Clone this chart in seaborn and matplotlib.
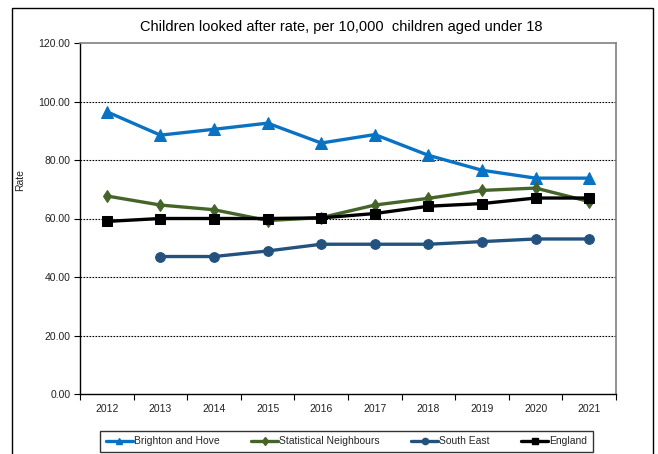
import matplotlib
matplotlib.use("Agg")
import matplotlib.pyplot as plt
from matplotlib import font_manager
from matplotlib.lines import Line2D
from matplotlib.patches import Rectangle
from matplotlib.ticker import FixedLocator, NullFormatter, FixedFormatter
import numpy as np
import pandas as pd
import seaborn as sns

years = ["2012", "2013", "2014", "2015", "2016", "2017", "2018", "2019", "2020", "2021"]
brighton_and_hove = [96.5, 88.5, 90.5, 92.6, 85.8, 88.7, 81.6, 76.5, 73.8, 73.8]
statistical_neighbours = [67.7, 64.6, 63.0, 59.3, 60.3, 64.6, 66.9, 69.6, 70.4, 65.8]
south_east = [np.nan, 47.0, 47.0, 48.9, 51.2, 51.2, 51.2, 52.1, 53.0, 53.0]
england = [59.0, 60.0, 60.0, 60.0, 60.2, 61.7, 64.2, 65.1, 67.0, 67.0]

series_names = ["Brighton and Hove", "Statistical Neighbours", "South East", "England"]
series_values = [brighton_and_hove, statistical_neighbours, south_east, england]
colors = ["#0A72C3", "#45642A", "#24527F", "#000000"]
markers = ["^", "d", "o", "s"]
marker_sizes = [8.5, 6, 7, 7.5]

sns.set_theme(style="white")
available = {f.name for f in font_manager.fontManager.ttflist}
narrow = "Liberation Sans Narrow" if "Liberation Sans Narrow" in available else "Liberation Sans"
plt.rcParams["font.family"] = [narrow, "DejaVu Sans"]

rows = []
for name, vals in zip(series_names, series_values):
    for i, v in enumerate(vals):
        rows.append({"pos": i, "year": years[i], "series": name, "rate": v})
df = pd.DataFrame(rows)

fig = plt.figure(figsize=(6.58, 4.54), dpi=100)
ax = fig.add_axes([80 / 658, 1 - 394 / 454, (616 - 80) / 658, (394 - 43) / 454])

for name, col, mk, ms in zip(series_names, colors, markers, marker_sizes):
    sub = df[df["series"] == name].dropna()
    sns.lineplot(data=sub, x="pos", y="rate", ax=ax, color=col, linewidth=2.4,
                 marker=mk, markersize=ms, markeredgecolor=col, markerfacecolor=col,
                 legend=False)

ax.set_xlim(-0.5, len(years) - 0.5)
ax.set_ylim(0, 120)
ax.set_yticks(np.arange(0, 121, 20))
ax.set_yticklabels([f"{v:.2f}" for v in range(0, 121, 20)], fontsize=7.5, color="#222222")
ax.xaxis.set_major_locator(FixedLocator(np.arange(-0.5, len(years), 1.0)))
ax.xaxis.set_major_formatter(NullFormatter())
ax.xaxis.set_minor_locator(FixedLocator(np.arange(len(years))))
ax.xaxis.set_minor_formatter(FixedFormatter(years))
ax.tick_params(axis="x", which="major", direction="out", length=4, width=0.8, color="black", bottom=True)
ax.tick_params(axis="x", which="minor", length=0, labelsize=7.5, labelcolor="#222222", pad=7)
ax.tick_params(axis="y", direction="out", length=4, width=0.8, color="black", left=True, pad=3)
ax.set_xlabel("")
ax.set_ylabel("Rate", fontsize=7.5, color="#222222")
ax.yaxis.set_label_coords((25 - 80) / 536, (394 - 180) / 351)

for v in range(20, 120, 20):
    ax.axhline(v, color="black", linewidth=0.8, linestyle=(0, (1.5, 1.2)), zorder=0)

for side in ["left", "bottom"]:
    ax.spines[side].set_color("black")
    ax.spines[side].set_linewidth(1.0)
for side in ["top", "right"]:
    ax.spines[side].set_color("#808080")
    ax.spines[side].set_linewidth(1.2)

fig.text(341 / 658, 1 - 27 / 454, "Children looked after rate, per 10,000  children aged under 18",
         ha="center", va="center", fontsize=10.5, color="black")

handles = [Line2D([], [], color=c, linewidth=2.4, marker=m, markersize=4.5,
                  markerfacecolor=c, markeredgecolor=c)
           for c, m in zip(colors, markers)]
leg = fig.legend(handles, series_names, loc="lower left", ncol=4, mode="expand",
                 bbox_to_anchor=(100 / 658, 2 / 454, 493 / 658, 28 / 454),
                 borderaxespad=0, frameon=True, fancybox=False, fontsize=7.5,
                 handlelength=2.6, handletextpad=0.1, borderpad=0.55)
leg.get_frame().set_edgecolor("black")
leg.get_frame().set_linewidth(1.0)

fig.patches.append(Rectangle((12 / 658, -0.02), (653 - 12) / 658, 1.02 - 8 / 454,
                             transform=fig.transFigure, fill=False,
                             edgecolor="black", linewidth=1.0))

fig.savefig("out.png", dpi=100)
